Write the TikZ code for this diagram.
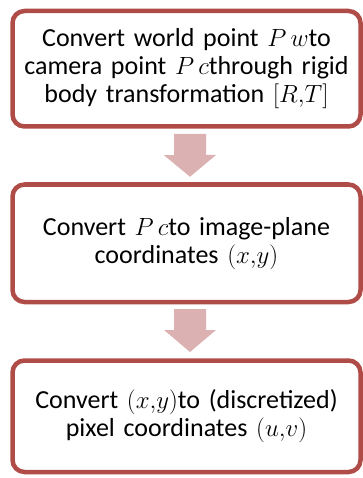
\documentclass[tikz,border=0pt]{standalone}
\usepackage{fontspec}
\setmainfont{Carlito}
\usetikzlibrary{calc}

\definecolor{cborder}{RGB}{176,76,72}
\definecolor{carrow}{RGB}{219,177,177}

\tikzset{
  stepbox/.style={shape=rectangle, rounded corners=12pt, draw=cborder, fill=white,
    line width=4.5pt, minimum width=348pt, text width=340pt, align=center,
    font=\fontsize{26}{28}\selectfont},
  blockarrow/.style={fill=carrow, draw=none}
}

\begin{document}
\begin{tikzpicture}[x=1pt,y=-1pt]
%
\useasboundingbox (0,0) rectangle (362,478);
%
\node[stepbox,minimum height=115.5pt] (b1) at (186.5,68.75)
  {Convert world point $P\,w$to\\ camera point $P\,c$through rigid\\ body transformation $[R{,}T]$};
\node[stepbox,minimum height=117.5pt] (b2) at (186.5,243.25)
  {Convert $P\,c$to image-plane\\ coordinates $(x{,}y)$};
\node[stepbox,minimum height=111.5pt] (b3) at (186.5,416.25)
  {Convert $(x{,}y)$to (discretized)\\ pixel coordinates $(u{,}v)$};
%
\fill[blockarrow] ($(b1.south)+(-12.5,5.25)$) -- ($(b1.south)+(19.5,5.25)$) -- ++(0,21)
  -- ++(10,0) -- ($(b2.north)+(3.5,-5.5)$) -- ++(-26,-21.5) -- ++(10,0) -- cycle;
\fill[blockarrow] ($(b2.south)+(-12.5,4.75)$) -- ($(b2.south)+(19.5,4.75)$) -- ++(0,21)
  -- ++(10,0) -- ($(b3.north)+(3.5,-6.25)$) -- ++(-26,-22) -- ++(10,0) -- cycle;
%
\end{tikzpicture}
\end{document}
